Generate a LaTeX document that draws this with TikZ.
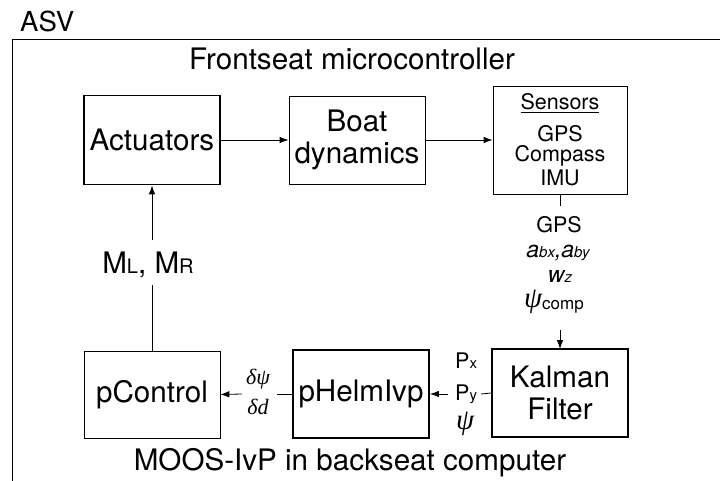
\documentclass[tikz,border=0pt]{standalone}
\usepackage{fontspec}
\setmainfont{TeX Gyre Heros}
\newfontfamily\greekfont{Liberation Serif}
\usetikzlibrary{arrows.meta}

% sizes used across the diagram
\newcommand\fsbig{\fontsize{29.6}{32}\selectfont}
\newcommand\fsmid{\fontsize{21.5}{24}\selectfont}
\newcommand\fssub[1]{{\fontsize{15}{15}\selectfont #1}}
\newcommand\gk[2]{{\greekfont\itshape\fontsize{#1}{#1}\selectfont #2}}

\begin{document}
\begin{tikzpicture}[x=1pt,y=-1pt,
  box/.style={draw, line width=0.8pt, minimum width=136pt, minimum height=88pt,
              inner sep=0pt, font=\fsbig, align=center},
  boldbox/.style={box, line width=1.8pt},
  link/.style={line width=0.8pt},
  arr/.style={link, -{Latex[length=9pt,width=6.5pt]}},
  txt/.style={inner sep=0pt, anchor=base},
]
\useasboundingbox (0,0) rectangle (720,481);

% outer ASV frame (open to the right and bottom)
\draw[line width=1pt] (12,481) -- (12,40) -- (720,40);
\node[txt, anchor=base west, font=\fontsize{27.5}{30}\selectfont] (asv) at (20,32) {ASV};

% frontseat microcontroller
\node[txt, font=\fsbig] (front) at (352,70) {Frontseat microcontroller};
\node[boldbox, minimum height=89pt] (act) at (152,140) {Actuators};
\node[box] (boat) at (357,140) {Boat\\dynamics};
\node[box, minimum width=134pt, minimum height=108pt] (sens) at (560,140) {};
\node[txt, font=\fsmid] (senst) at (560,110) {\underline{Sensors}};
\node[txt, font=\fsmid] (gps1) at (560,142) {GPS};
\node[txt, font=\fsmid] (comp) at (560,161.5) {Compass};
\node[txt, font=\fsmid] (imu) at (560,186) {IMU};

\draw[arr] (act.east) -- (boat.west);
\draw[arr] (boat.east) -- (sens.west);

% sensor outputs fed to the Kalman filter
\coordinate (sdown) at (560,206);
\coordinate (kin) at (560,330);
\draw[link] (sens.south) -- (sdown);
\node[txt, font=\fsmid] (gps2) at (559,233) {GPS};
\node[txt, font=\fontsize{23}{24}\selectfont\itshape] (acc) at (558,258)
  {a\fssub{bx},a\fssub{by}};
\node[txt, font=\fontsize{23}{24}\selectfont\itshape] (gyro) at (560,282) {w\fssub{z}};
\node[txt] (psic) at (554,307) {\gk{29}{ψ}\fontsize{17}{17}\selectfont\raisebox{-2pt}{comp}};
\draw[arr] (kin) -- (560,349);

% backseat computer
\node[boldbox] (kal) at (560,393) {Kalman\\Filter};
\node[boldbox] (helm) at (361,394) {pHelmIvp};
\node[box, minimum height=87pt] (ctrl) at (152,394.5) {pControl};
\node[txt, font=\fsbig] (back) at (350,470) {MOOS-IvP in backseat computer};

% Kalman filter -> helm
\coordinate (kout) at (481,394);
\coordinate (hin) at (448,394);
\draw[link] (kal.west) -- (kout);
\draw[arr] (hin) -- (helm.east);
\node[txt, anchor=base west, font=\fsmid] (px) at (455,368) {P\fssub{x}};
\node[txt, anchor=base west, font=\fsmid] (py) at (455,400) {P\fssub{y}};
\node[txt, anchor=base west] (psi) at (456,429) {\gk{29}{ψ}};

% helm -> controller
\coordinate (hout) at (277,394);
\coordinate (cin) at (242,394);
\draw[link] (helm.west) -- (hout);
\draw[arr] (cin) -- (ctrl.east);
\node[txt] (dpsi) at (258,384) {\gk{22}{δψ}};
\node[txt] (dd) at (258,414) {\gk{22}{δd}};

% controller -> actuators
\coordinate (cup) at (152,285);
\coordinate (ain) at (152,240);
\draw[link] (ctrl.north) -- (cup);
\draw[arr] (ain) -- (act.south);
\node[txt, font=\fsbig] (mlr) at (148,273)
  {M{\fontsize{20}{20}\selectfont L}, M{\fontsize{20}{20}\selectfont R}};
\end{tikzpicture}
\end{document}
